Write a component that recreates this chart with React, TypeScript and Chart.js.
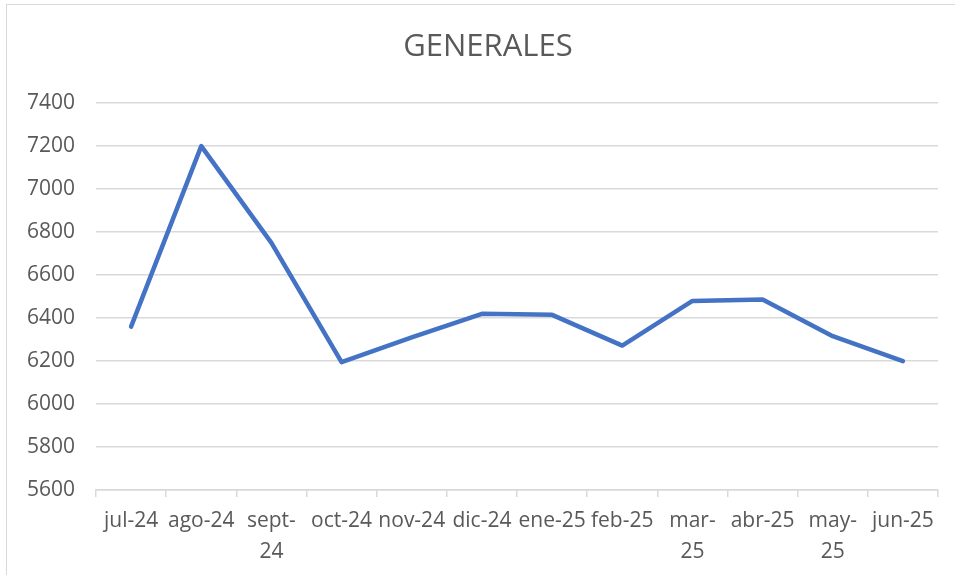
import React, { useEffect, useRef } from "react";
import { Chart, registerables } from "chart.js";

Chart.register(...registerables);

const categories: (string | string[])[] = [
  "jul-24",
  "ago-24",
  ["sept-", "24"],
  "oct-24",
  "nov-24",
  "dic-24",
  "ene-25",
  "feb-25",
  ["mar-", "25"],
  "abr-25",
  ["may-", "25"],
  "jun-25",
];

const generales: number[] = [6360, 7200, 6750, 6195, 6310, 6420, 6415, 6272, 6480, 6486, 6316, 6200];

const yMin = 5600;
const yMax = 7400;
const yStep = 200;

const FONT = "'Open Sans', sans-serif";
const TEXT = "#595959";
const GRID = "#d9d9d9";

const titleShift = {
  id: "titleShift",
  afterLayout(chart: any) {
    const t = chart.titleBlock;
    if (t) {
      t.left = 38;
      t.width = t.right - t.left;
    }
  },
};

export default function App() {
  const canvasRef = useRef<HTMLCanvasElement | null>(null);

  useEffect(() => {
    document.body.style.margin = "0";
    document.body.style.overflow = "hidden";
    const canvas = canvasRef.current;
    if (!canvas) return;
    const chart = new Chart(canvas, {
      type: "line",
      data: {
        labels: categories as any,
        datasets: [
          {
            label: "GENERALES",
            data: generales,
            borderColor: "#4472C4",
            backgroundColor: "#4472C4",
            borderWidth: 4.5,
            borderCapStyle: "round",
            borderJoinStyle: "round",
            pointRadius: 0,
            pointHoverRadius: 0,
            tension: 0,
            fill: false,
          },
        ],
      },
      plugins: [titleShift],
      options: {
        animation: false,
        responsive: false,
        maintainAspectRatio: false,
        layout: { padding: { left: 0, right: 17, top: 0, bottom: 0 } },
        plugins: {
          legend: { display: false },
          tooltip: { enabled: false },
          title: {
            display: true,
            text: "GENERALES",
            color: TEXT,
            font: { family: FONT, size: 31, weight: "normal", lineHeight: 1.2 },
            padding: { top: 29, bottom: 37 },
          },
        },
        scales: {
          x: {
            type: "category",
            offset: true,
            grid: {
              offset: true,
              display: true,
              drawOnChartArea: false,
              drawTicks: true,
              tickLength: 7,
              color: GRID,
              lineWidth: 1.5,
            },
            border: { display: true, color: GRID, width: 1.5 },
            ticks: {
              autoSkip: false,
              maxRotation: 0,
              minRotation: 0,
              color: TEXT,
              padding: 9,
              font: { family: FONT, size: 21, lineHeight: 1.45 },
            },
            afterFit: (scale: any) => {
              scale.height = 85;
            },
          },
          y: {
            min: yMin,
            max: yMax,
            ticks: {
              stepSize: yStep,
              color: TEXT,
              padding: 21,
              font: { family: FONT, size: 21 },
              callback: (v: any) => String(v),
            },
            grid: {
              color: GRID,
              lineWidth: 1.5,
              drawTicks: false,
            },
            border: { display: false },
            afterFit: (scale: any) => {
              scale.width = 96;
            },
          },
        },
      },
    });
    return () => chart.destroy();
  }, []);

  return (
    <div style={{ position: "fixed", left: 0, top: 0, width: 955, height: 575, overflow: "hidden", background: "#fff" }}>
      <div
        style={{
          position: "absolute",
          left: 6,
          top: 4,
          width: 1200,
          height: 1200,
          border: "1px solid #d9d9d9",
          boxSizing: "border-box",
        }}
      />
      <canvas ref={canvasRef} width={955} height={575} style={{ position: "absolute", left: 0, top: 0 }} />
    </div>
  );
}
